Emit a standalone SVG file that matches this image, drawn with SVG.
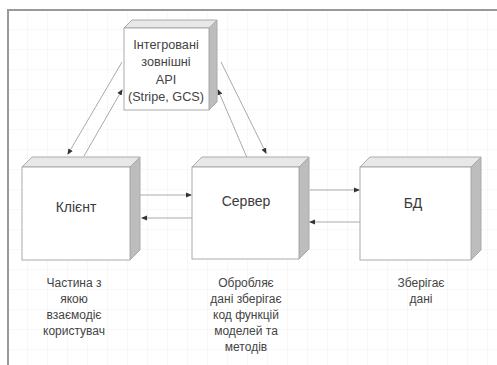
<svg xmlns="http://www.w3.org/2000/svg" width="497" height="365" viewBox="0 0 497 365">
<defs>
<pattern id="grid" width="20" height="20" patternUnits="userSpaceOnUse" x="8" y="10">
<path d="M20 0V20M0 20H20" fill="none" stroke="#f0f0f0" stroke-width="1"/>
</pattern>
<marker id="ah" markerWidth="6" markerHeight="6" refX="5" refY="3" orient="auto" markerUnits="userSpaceOnUse">
<path d="M0 0.5L6 3L0 5.5Z" fill="#333"/>
</marker>
<style>
.front{fill:#fff;stroke:#aaa;stroke-width:1}
.top{fill:#e8e8e8;stroke:#aaa;stroke-width:1}
.side{fill:#bdbdbd;stroke:#aaa;stroke-width:1}
.lbl{font-family:"Liberation Sans",Arial,sans-serif;font-size:14px;fill:#3a3a3a;text-anchor:middle}
.small{font-family:"Liberation Sans",Arial,sans-serif;font-size:12px;fill:#444;text-anchor:middle}
.api{font-family:"Liberation Sans",Arial,sans-serif;font-size:12.7px;fill:#444;text-anchor:middle}
.conn{stroke:#aaa;stroke-width:1;fill:none;marker-end:url(#ah)}
</style>
</defs>
<rect width="497" height="365" fill="#fff"/>
<rect x="8" y="10" width="489" height="355" fill="url(#grid)"/>
<path d="M7 10H497" stroke="#999" stroke-width="2"/>
<path d="M8 10V365" stroke="#999" stroke-width="2"/>

<g id="connectors">
<line class="conn" x1="122" y1="62" x2="68" y2="154"/>
<line class="conn" x1="84" y1="156" x2="122" y2="90"/>
<line class="conn" x1="248" y1="160" x2="218" y2="90"/>
<line class="conn" x1="221" y1="62" x2="266" y2="153"/>
<line class="conn" x1="140" y1="195" x2="191" y2="195"/>
<line class="conn" x1="192" y1="218" x2="142" y2="218"/>
<line class="conn" x1="310" y1="190" x2="359" y2="190"/>
<line class="conn" x1="360" y1="222" x2="310" y2="222"/>
</g>

<g id="api">
<path class="top" d="M124 28L132 20H217L209 28Z"/>
<path class="side" d="M209 28L217 20V102L209 110Z"/>
<rect class="front" x="124" y="28" width="85" height="82"/>
<text class="api" x="166" y="49">Інтегровані</text>
<text class="api" x="166" y="66">зовнішні</text>
<text class="api" x="166" y="84">API</text>
<text class="api" x="166" y="101">(Stripe, GCS)</text>
</g>

<g id="client">
<path class="top" d="M22 167L32 157H140L130 167Z"/>
<path class="side" d="M130 167L140 157V250L130 260Z"/>
<rect class="front" x="22" y="167" width="108" height="93"/>
<text class="lbl" x="76" y="212">Клієнт</text>
</g>

<g id="server">
<path class="top" d="M192 167L202 157H309L299 167Z"/>
<path class="side" d="M299 167L309 157V249L299 259Z"/>
<rect class="front" x="192" y="167" width="107" height="92"/>
<text class="lbl" x="246" y="206">Сервер</text>
</g>

<g id="db">
<path class="top" d="M360 167L370 157H481L471 167Z"/>
<path class="side" d="M471 167L481 157V250L471 260Z"/>
<rect class="front" x="360" y="167" width="111" height="93"/>
<text class="lbl" x="413" y="208">БД</text>
</g>

<g id="note-client">
<text class="small" x="74" y="287">Частина з</text>
<text class="small" x="74" y="303">якою</text>
<text class="small" x="74" y="319">взаємодіє</text>
<text class="small" x="74" y="335">користувач</text>
</g>
<g id="note-server">
<text class="small" x="246" y="287">Обробляє</text>
<text class="small" x="246" y="303">дані зберігає</text>
<text class="small" x="246" y="319">код функцій</text>
<text class="small" x="246" y="335">моделей та</text>
<text class="small" x="246" y="351">методів</text>
</g>
<g id="note-db">
<text class="small" x="421" y="287">Зберігає</text>
<text class="small" x="421" y="303">дані</text>
</g>
</svg>
